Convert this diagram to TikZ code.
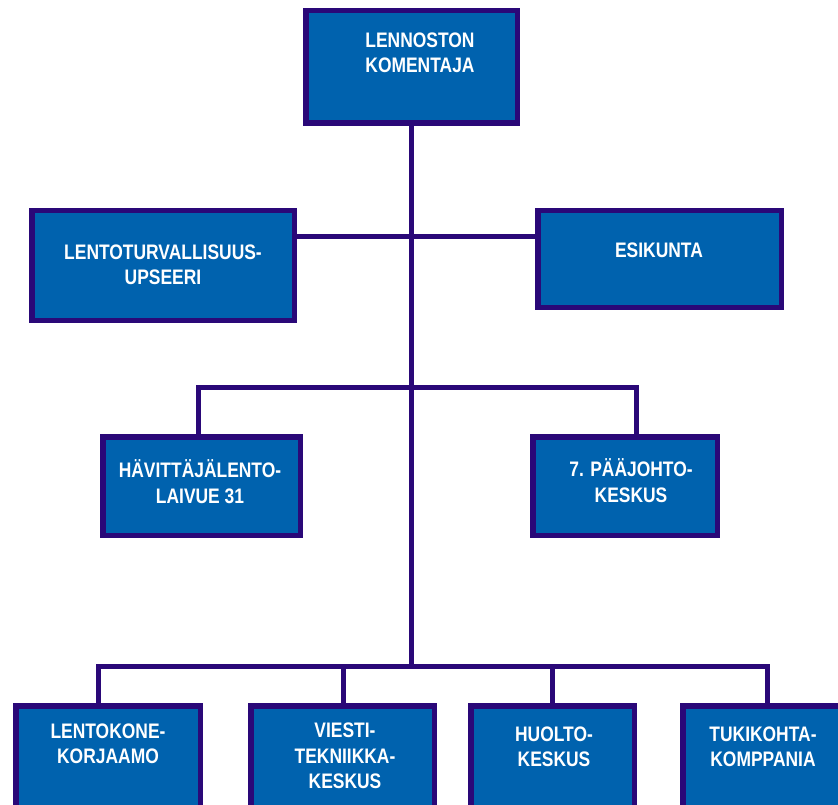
\documentclass[tikz,border=0pt]{standalone}
\usepackage{fontspec}
\newfontfamily\unitfont{Liberation Sans}[FakeStretch=0.83]
\definecolor{unitblue}{RGB}{0,98,174}
\definecolor{linkpurple}{RGB}{42,8,120}
\tikzset{
  unitbox/.style={rectangle, draw=linkpurple, fill=unitblue, line width=5.5pt, inner sep=0pt},
  unitlabel/.style={align=center, text=white, inner sep=0pt,
    font=\unitfont\bfseries\fontsize{21}{25.3}\selectfont},
  link/.style={draw=linkpurple, line width=5pt, line join=miter}
}
\begin{document}
\begin{tikzpicture}[x=1pt, y=-1pt]
\useasboundingbox (0,0) rectangle (838,805);
\clip (0,0) rectangle (838,805);
\fill[white] (0,0) rectangle (838,805);

% boxes
\node[unitbox, minimum width=211.5pt, minimum height=112.5pt] (top)  at (411.5,67)  {};
\node[unitbox, minimum width=262.5pt, minimum height=109.5pt] (lto)  at (163,265.5) {};
\node[unitbox, minimum width=243.5pt, minimum height=96.5pt]  (esk)  at (659.5,259) {};
\node[unitbox, minimum width=197.5pt, minimum height=98.5pt]  (hav)  at (201.5,486) {};
\node[unitbox, minimum width=184.5pt, minimum height=98.5pt]  (paa)  at (625,486)   {};
\node[unitbox, minimum width=184.5pt, minimum height=106.5pt] (lkk)  at (108,759)   {};
\node[unitbox, minimum width=183.5pt, minimum height=106.5pt] (vtk)  at (342.5,759) {};
\node[unitbox, minimum width=163.5pt, minimum height=106.5pt] (hlk)  at (552.5,759) {};
\node[unitbox, minimum width=164.5pt, minimum height=106.5pt] (tkk)  at (765,759)   {};

% bus lines and drop points
\coordinate (row1) at (411,236.5);
\coordinate (havdrop) at (198,387);
\coordinate (paadrop) at (636,387);
\coordinate (d1) at (98,666);
\coordinate (d2) at (343,666);
\coordinate (d3) at (552,666);
\coordinate (d4) at (767.5,666);

% connectors
\draw[link] (top.south) -- (top.south |- d1);
\draw[link] (lto.east |- row1) -- (esk.west |- row1);
\draw[link] (havdrop |- hav.north) -- (havdrop) -- (paadrop) -- (paadrop |- paa.north);
\draw[link] (d1 |- lkk.north) -- (d1) -- (d4) -- (d4 |- tkk.north);
\draw[link] (d2) -- (d2 |- vtk.north);
\draw[link] (d3) -- (d3 |- hlk.north);

% labels
\node[unitlabel] (topT) at (420,53)    {LENNOSTON\\KOMENTAJA};
\node[unitlabel] (ltoT) at (163,264.5) {LENTOTURVALLISUUS-\\UPSEERI};
\node[unitlabel] (eskT) at (659,250)   {ESIKUNTA};
\node[unitlabel] (havT) at (200,481.5) {HÄVITTÄJÄLENTO-\\LAIVUE 31};
\node[unitlabel] (paaT) at (631,480.5) {7. PÄÄJOHTO-\\KESKUS};
\node[unitlabel] (lkkT) at (108,743.5) {LENTOKONE-\\KORJAAMO};
\node[unitlabel] (vtkT) at (345,756)   {VIESTI-\\TEKNIIKKA-\\KESKUS};
\node[unitlabel] (hlkT) at (554,746.5) {HUOLTO-\\KESKUS};
\node[unitlabel] (tkkT) at (763,746.5) {TUKIKOHTA-\\KOMPPANIA};
\end{tikzpicture}
\end{document}
